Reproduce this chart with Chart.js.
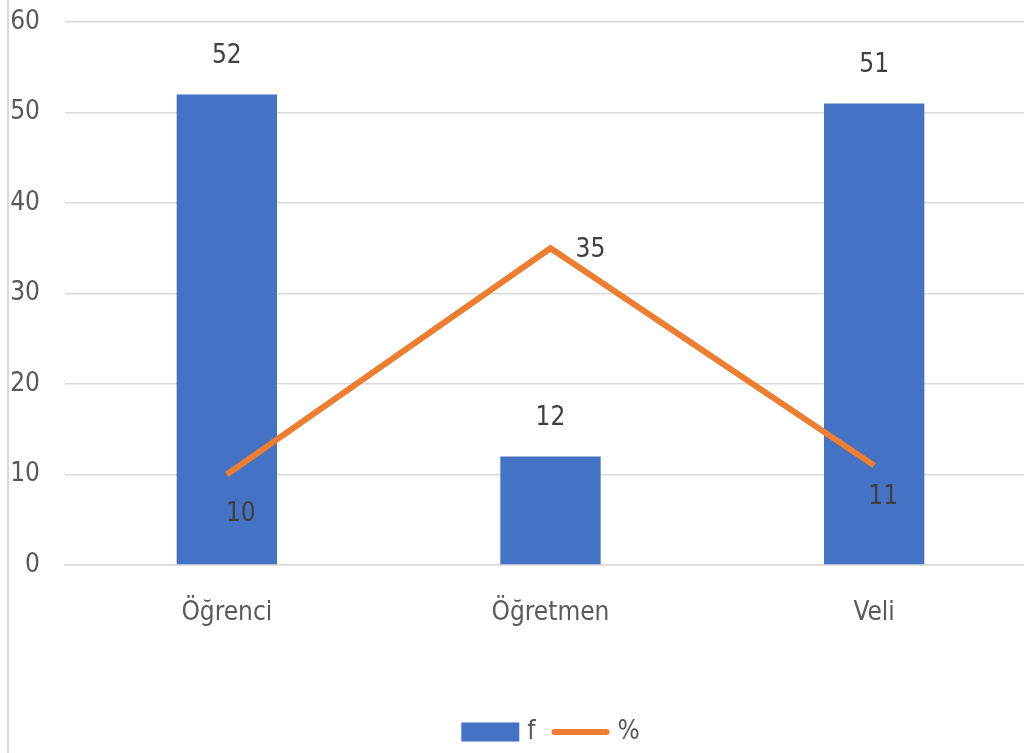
<!DOCTYPE html>
<html>
<head>
<meta charset="utf-8">
<script src="https://cdn.jsdelivr.net/npm/chart.js@4"></script>
<style>
  html, body { margin: 0; padding: 0; background: #fff; overflow: hidden; width: 1024px; height: 753px; }
  #wrap { position: absolute; left: 0; top: 0; width: 1036px; height: 753px; }
  #edge { position: absolute; left: 7px; top: 0; width: 2px; height: 753px; background: #d9d9d9; }
</style>
</head>
<body>
<div id="edge"></div>
<div id="wrap"><canvas id="c"></canvas></div>
<script>
const categories = ['Öğrenci', 'Öğretmen', 'Veli'];
const fValues = [52, 12, 51];
const pctValues = [10, 35, 11];
const yTicks = [0, 10, 20, 30, 40, 50, 60];

const FONT = "'Liberation Sans Narrow', 'DejaVu Sans Condensed', 'Open Sans', sans-serif";
const TXT = '#595959';

const labelPlugin = {
  id: 'valueLabels',
  afterDatasetsDraw(chart, args, opts) {
    const ctx = chart.ctx;
    ctx.save();
    ctx.font = `26px ${FONT}`;
    ctx.fillStyle = '#404040';
    ctx.textAlign = 'center';
    ctx.textBaseline = 'middle';
    chart.data.datasets.forEach((ds, di) => {
      const meta = chart.getDatasetMeta(di);
      const offs = opts.offsets[di];
      meta.data.forEach((el, i) => {
        const o = offs[i];
        ctx.fillText(String(ds.data[i]), el.x + o[0], el.y + o[1]);
      });
    });
    ctx.restore();
  }
};

// Excel-like legend drawn below the axis labels, centred on the plot area
const legendPlugin = {
  id: 'xlLegend',
  afterDraw(chart, args, opts) {
    const ctx = chart.ctx;
    const ca = chart.chartArea;
    const items = opts.order.map(i => chart.data.datasets[i]);
    ctx.save();
    ctx.font = `26px ${FONT}`;
    ctx.textBaseline = 'middle';
    const parts = items.map(ds => ({ ds, tw: ctx.measureText(ds.label).width }));
    const total = parts.reduce((a, p) => a + opts.symW + opts.textGap + p.tw, 0) + opts.itemGap * (parts.length - 1);
    let x = (ca.left + ca.right) / 2 - total / 2;
    const y = opts.y;
    parts.forEach(p => {
      if (p.ds.type === 'line') {
        ctx.strokeStyle = p.ds.borderColor;
        ctx.lineWidth = p.ds.borderWidth;
        ctx.lineCap = 'round';
        ctx.beginPath();
        ctx.moveTo(x + 3, y);
        ctx.lineTo(x + opts.symW - 3, y);
        ctx.stroke();
      } else {
        ctx.fillStyle = p.ds.backgroundColor;
        ctx.fillRect(x, y - opts.boxH / 2, opts.symW, opts.boxH);
      }
      x += opts.symW + opts.textGap;
      ctx.fillStyle = TXT;
      ctx.textAlign = 'left';
      ctx.fillText(p.ds.label, x, y);
      x += p.tw + opts.itemGap;
    });
    ctx.restore();
  }
};

new Chart(document.getElementById('c'), {
  data: {
    labels: categories,
    datasets: [
      {
        type: 'line',
        label: '%',
        data: pctValues,
        borderColor: '#ED7D31',
        backgroundColor: '#ED7D31',
        borderWidth: 6,
        borderCapStyle: 'butt',
        pointRadius: 0,
        tension: 0,
        order: 0
      },
      {
        type: 'bar',
        label: 'f',
        data: fValues,
        backgroundColor: '#4472C4',
        borderWidth: 0,
        categoryPercentage: 1,
        barPercentage: 0.31,
        order: 1
      }
    ]
  },
  options: {
    responsive: true,
    maintainAspectRatio: false,
    animation: false,
    layout: { padding: { top: 22, right: 0, left: 0, bottom: 41 } },
    scales: {
      x: {
        grid: { display: false, drawTicks: false },
        border: { display: true, color: '#d9d9d9', width: 1.5 },
        ticks: { color: TXT, font: { family: FONT, size: 26 }, padding: 33 },
        afterFit(s) { s.height = 147; s.paddingLeft = 0; s.paddingRight = 0; }
      },
      y: {
        min: 0, max: 60,
        afterBuildTicks(s) { s.ticks = yTicks.map(v => ({ value: v })); },
        grid: { color: '#d9d9d9', lineWidth: 1.5, drawTicks: false },
        border: { display: false },
        ticks: { color: TXT, font: { family: FONT, size: 26 }, padding: 25 },
        afterFit(s) { s.width = 65; s.paddingTop = 0; s.paddingBottom = 0; }
      }
    },
    plugins: {
      legend: { display: false },
      tooltip: { enabled: false },
      xlLegend: { order: [1, 0], y: 732, symW: 58, boxH: 19, textGap: 8, itemGap: 16 },
      valueLabels: {
        offsets: [
          [[14, 40], [40, 2], [9, 32]],
          [[0, -38], [0, -38], [0, -38]]
        ]
      }
    }
  },
  plugins: [labelPlugin, legendPlugin]
});
</script>
</body>
</html>
